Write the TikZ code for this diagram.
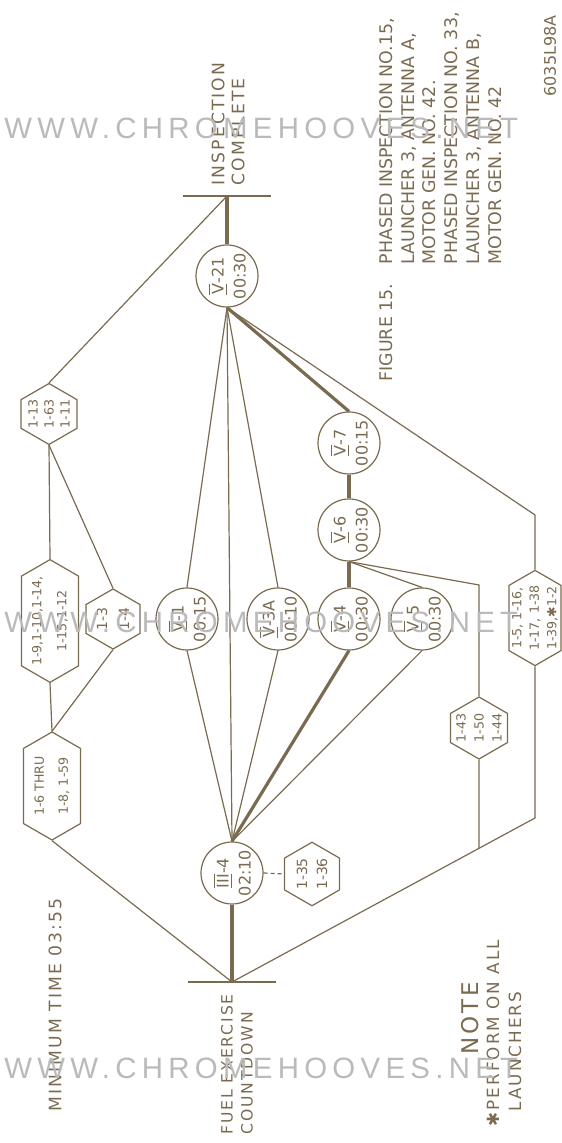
\documentclass[tikz,border=0pt]{standalone}
\usepackage{fontspec}
\setmainfont{DejaVu Sans}
\newfontfamily\wide{DejaVu Sans}[LetterSpace=12]
\newfontfamily\wmark{Liberation Sans}[LetterSpace=18]
\usepackage{tikz}
\usetikzlibrary{shapes.symbols, calc}
\definecolor{ink}{RGB}{122,106,80}
\newcommand{\rn}[1]{$\overline{\underline{\hbox{#1}}}$}

\begin{document}
\begin{tikzpicture}[
	task/.style={circle, draw=ink, line width=0.6pt, minimum size=31pt, inner sep=0pt,
		align=center, font=\fontsize{8}{11}\selectfont},
	hexa/.style={signal, signal to=east and west, signal pointer angle=120, draw=ink,
		line width=0.6pt, inner sep=0pt, align=center, font=\fontsize{6.3}{#1}\selectfont},
	hexa/.default=8,
	big/.style={font=\fontsize{7}{#1}\selectfont},
	crit/.style={line width=1.6pt},
	]
	\useasboundingbox (0,0) rectangle (280.5pt,571.5pt);
	% chart, drawn lying down and turned up
	\begin{scope}[shift={(280.5pt,0pt)}, rotate=90, transform shape, x=0.5pt, y=0.5pt,
		color=ink, line width=0.6pt]
		\coordinate (start) at (161,329);
		\coordinate (finish) at (947,334);
		\draw[line width=1pt] ($(start)+(0,-44)$) -- ($(start)+(0,44)$);
		\draw[line width=1pt] ($(finish)+(0,-44)$) -- ($(finish)+(0,44)$);
		% events
		\node[task] (iii4) at (270,329) {\rn{III}-4\\02:10};
		\node[task] (v1) at (524,374) {\rn{V}-1\\00:15};
		\node[task] (v3a) at (524,283) {\rn{V}-3A\\00:10};
		\node[task] (v4) at (524,212) {\rn{V}-4\\00:30};
		\node[task] (v5) at (524,139) {\rn{V}-5\\00:30};
		\node[task] (v6) at (613,212) {\rn{V}-6\\00:30};
		\node[task] (v7) at (700,212) {\rn{V}-7\\00:15};
		\node[task] (v21) at (867,334) {\rn{V}-21\\00:30};
		% card items
		\node[hexa, big=10, minimum width=31pt, minimum height=27.5pt] (h135) at (269,249) {1-35\\1-36};
		\node[hexa=12, minimum width=54pt, minimum height=28.5pt] (h16) at (357,509) {1-6 THRU\\1-8, 1-59};
		\node[hexa=12.5, minimum width=54pt, minimum height=28.5pt] (h19) at (522,511) {1-9,1-10,1-14,\\1-15,1-12};
		\node[hexa, big=11, minimum width=30pt, minimum height=27pt] (h13) at (524,448) {1-3\\1-4};
		\node[hexa=8, minimum width=30pt, minimum height=28pt] (h113) at (729,512) {1-13\\1-63\\1-11};
		\node[hexa=9, minimum width=31pt, minimum height=28.5pt] (h143) at (415,82) {1-43\\1-50\\1-44};
		\node[hexa=8.75, minimum width=46.5pt, minimum height=26pt] (h15) at (525,26) {1-5, 1-16,\\1-17, 1-38\\1-39,✱1-2};
		\coordinate (c1) at (558,82);
		\coordinate (c3) at (325,26);
		\coordinate (c4) at (628,26);
		\coordinate (c2) at (intersection of start--c3 and h143.east--h143.west);
		% links
		\draw (start) -- (h16.west);
		\draw (h16.east) -- (h19.west);
		\draw (h16.east) -- (h13.west);
		\draw (h19.east) -- (h113.west);
		\draw (h13.east) -- (h113.west);
		\draw (h113.east) -- (finish);
		\draw[dash pattern=on 2pt off 1.5pt] (iii4.south) -- (h135.north);
		\foreach \t in {v1, v3a}
			\draw (iii4.east) -- (\t.west) (\t.east) -- (v21.west);
		\draw (iii4.east) -- (v21.west);
		\draw (iii4.east) -- (v5.west) (v5.east) -- (v6.west);
		\draw (v6.west) -- (c1) -- (h143.east);
		\draw (h143.west) -- (c2);
		\draw (start) -- (c3) -- (h15.west);
		\draw (h15.east) -- (c4) -- (v21.west);
		% critical path
		\draw[crit] (start) -- (iii4.west);
		\draw[crit] (iii4.east) -- (v4.west);
		\draw[crit] (v4.east) -- (v6.west);
		\draw[crit] (v6.east) -- (v7.west);
		\draw[crit] (v7.east) -- (v21.west);
		\draw[crit] (v21.east) -- (finish);
		% texts
		\node[anchor=west, inner sep=0, align=left, font=\wide\fontsize{7.8}{10}\selectfont] (startlbl) at (8,324) {FUEL EXERCISE\\COUNTDOWN};
		\node[anchor=west, inner sep=0, align=left, font=\wide\fontsize{8.6}{10}\selectfont] (endlbl) at (957,333) {INSPECTION\\COMPLETE};
		\node[inner sep=0, font=\wide\fontsize{8.6}{10}\selectfont] (mintime) at (138,506) {MINIMUM TIME 03:55};
		\node[inner sep=0, font=\wide\fontsize{11.5}{12}\selectfont] (note) at (125,91) {NOTE};
		\node[anchor=west, inner sep=0, font=\wide\fontsize{8.4}{10}\selectfont] (perform) at (16,68) {✱PERFORM ON ALL};
		\node[anchor=west, inner sep=0, font=\wide\fontsize{8.4}{10}\selectfont] (launch) at (31,46) {LAUNCHERS};
		\node[anchor=west, inner sep=0, font=\fontsize{8.7}{10.9}\selectfont] (caption) at (761,118.5)
			{\begin{tabular}{@{}l@{}l@{}}
				\makebox[58.5pt][l]{FIGURE 15.} & PHASED INSPECTION NO.15,\\
				& LAUNCHER 3, ANTENNA A,\\
				& MOTOR GEN. NO. 42.\\
				& PHASED INSPECTION NO. 33,\\
				& LAUNCHER 3, ANTENNA B,\\
				& MOTOR GEN. NO. 42
			\end{tabular}};
		\node[anchor=east, inner sep=0, font=\fontsize{8}{9}\selectfont] (figno) at (1128,11) {6035L98A};
	\end{scope}
	% watermark
	\foreach \y/\w in {507.5/wa, 260.5/wb, 37.5/wc}
		\node[anchor=west, inner sep=0, text=black!27, font=\wmark\fontsize{14.7}{15}\selectfont] (\w) at (2pt,\y pt) {WWW.CHROMEHOOVES.NET};
\end{tikzpicture}
\end{document}
